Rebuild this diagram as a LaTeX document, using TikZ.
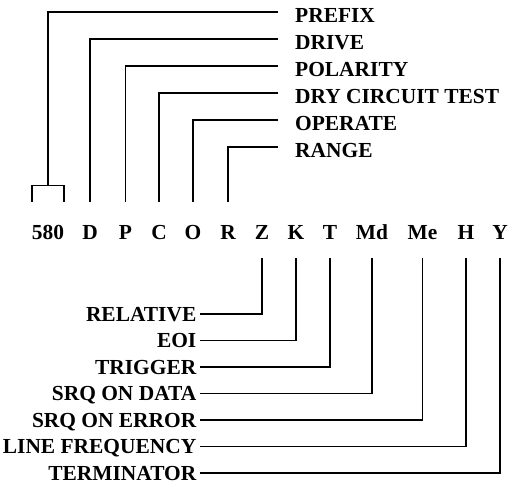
\documentclass[tikz,border=0pt]{standalone}
\usepackage{fontspec}
\setmainfont{Liberation Serif}
\usetikzlibrary{positioning}
\tikzset{
  key/.style={font=\fontsize{21.5}{25}\selectfont\bfseries,inner sep=0pt,anchor=base},
  lab/.style={font=\fontsize{21.5}{25}\selectfont\bfseries,inner sep=0pt,text height=14.2bp,text depth=0pt},
  wire/.style={line width=1.6bp},
}
\begin{document}
\begin{tikzpicture}[x=1bp,y=-1bp]
  \useasboundingbox (0,0) rectangle (508,486);
  \foreach \n/\x in {580/48,D/90,P/125.5,C/159,O/193,R/228,Z/262,K/296,T/330,Md/372,Me/422.5,H/466,Y/500}
    \node[key] (k\n) at (\x,239) {\n};
  \foreach \n/\y/\t in {580/12/PREFIX,D/39/DRIVE,P/66/POLARITY,C/93/DRY CIRCUIT TEST,O/120/OPERATE,R/147/RANGE}
    \node[lab,anchor=west] (l\n) at (295,\y+3) {\t};
  \foreach \n/\y/\t in {Z/314/RELATIVE,K/340.5/EOI,T/367/TRIGGER,Md/393.5/SRQ ON DATA,Me/420/SRQ ON ERROR,H/446.5/LINE FREQUENCY,Y/473/TERMINATOR}
    \node[lab,anchor=east] (l\n) at (196.5,\y) {\t};
  \coordinate (brk) at ([yshift=39bp]k580.north);
  \draw[wire,shorten <=17bp] ([yshift=3bp]l580.west) -| (brk);
  \draw[wire] ([yshift=23bp]k580.north west) |- ([yshift=39bp]k580.north east) -- ([yshift=23bp]k580.north east);
  \foreach \n in {D,P,C,O,R}
    \draw[wire,shorten <=17bp,shorten >=23bp] ([yshift=3bp]l\n.west) -| (k\n);
  \foreach \n in {Z,K,T,Md,Me,H,Y}
    \draw[wire,shorten <=19bp,shorten >=3.5bp] (k\n) |- (l\n);
\end{tikzpicture}
\end{document}
